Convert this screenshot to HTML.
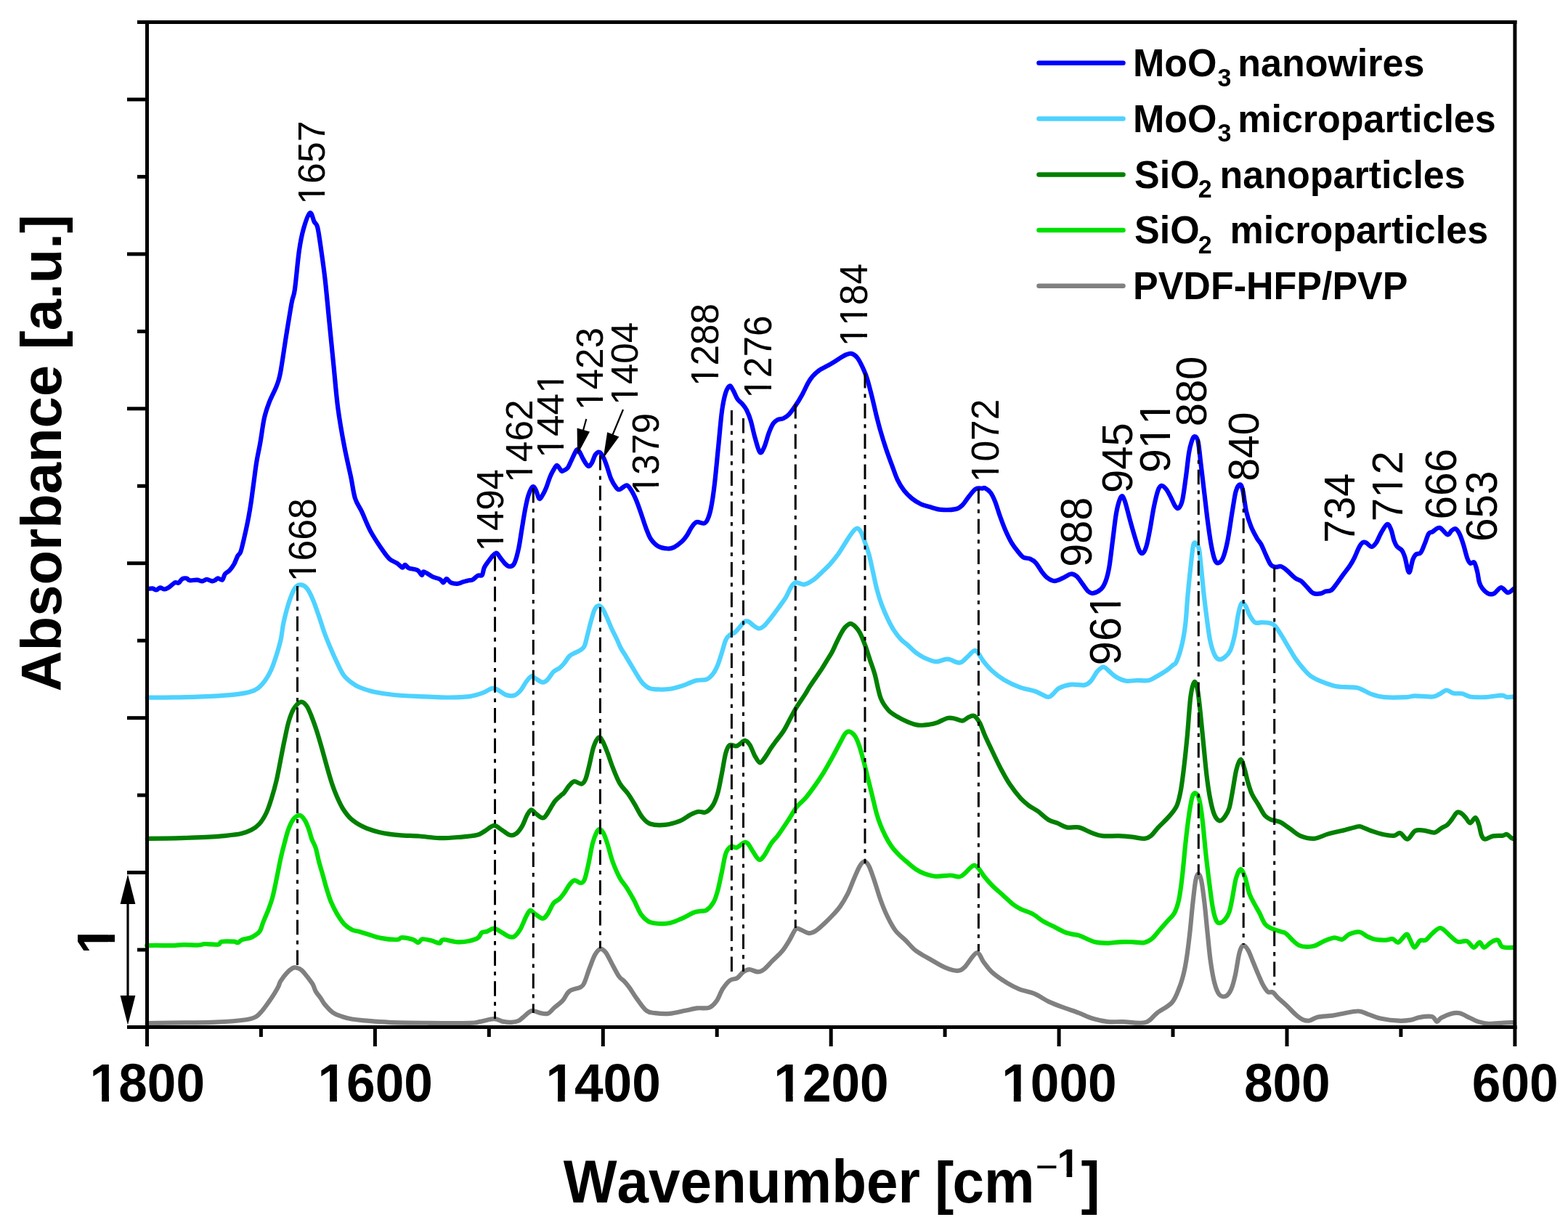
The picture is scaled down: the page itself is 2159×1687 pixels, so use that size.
<!DOCTYPE html>
<html><head><meta charset="utf-8"><title>FTIR spectra</title>
<style>html,body{margin:0;padding:0;background:#fff;width:2159px;height:1687px;overflow:hidden}svg{display:block}text{font-kerning:none;font-feature-settings:"kern" 0;}</style>
</head><body>
<svg xmlns="http://www.w3.org/2000/svg" width="2159" height="1687" viewBox="0 0 2159 1687"><rect x="0" y="0" width="2159" height="1687" fill="#ffffff"/>
<path d="M202.8,1409.1C211.6,1409.0 239.8,1408.6 255.6,1408.4C271.4,1408.2 283.4,1408.4 297.3,1407.7C311.2,1407.0 329.8,1405.5 339.0,1404.2C348.2,1402.9 349.1,1402.1 352.8,1400.0C356.5,1397.9 358.4,1394.9 361.2,1391.7C364.0,1388.5 366.7,1384.5 369.5,1380.6C372.3,1376.7 375.6,1371.8 377.9,1368.1C380.2,1364.4 382.0,1361.2 383.4,1358.4C384.8,1355.6 384.3,1354.4 386.2,1351.4C388.1,1348.4 391.7,1343.3 394.5,1340.3C397.3,1337.3 400.6,1334.6 402.9,1333.3C405.2,1332.0 406.3,1332.2 408.4,1332.7C410.5,1333.2 412.8,1333.9 415.4,1336.1C417.9,1338.3 421.1,1342.7 423.7,1345.9C426.2,1349.2 428.8,1352.4 430.7,1355.6C432.6,1358.8 432.9,1362.1 434.8,1365.3C436.7,1368.5 439.7,1372.0 441.8,1375.0C443.9,1378.0 444.5,1380.2 447.3,1383.4C450.1,1386.7 454.4,1391.7 458.4,1394.5C462.3,1397.3 466.6,1398.5 471.0,1400.0C475.4,1401.5 480.2,1402.7 484.8,1403.5C489.4,1404.3 490.0,1404.4 498.5,1405.1C507.0,1405.8 520.1,1407.2 535.6,1407.8C551.1,1408.4 572.7,1408.6 591.2,1408.8C609.7,1409.0 635.0,1409.1 646.7,1408.8C658.4,1408.5 656.0,1407.8 661.6,1406.9C667.2,1406.0 674.9,1403.2 680.1,1403.2C685.4,1403.2 689.1,1406.1 693.1,1406.9C697.1,1407.7 700.8,1408.0 704.2,1407.8C707.6,1407.6 710.6,1407.2 713.4,1406.0C716.2,1404.8 717.8,1402.7 720.9,1400.4C724.0,1398.1 728.3,1393.0 732.0,1392.1C735.7,1391.2 739.4,1394.3 743.1,1394.9C746.8,1395.5 750.8,1397.0 754.2,1395.8C757.6,1394.6 760.1,1390.4 763.5,1387.5C766.9,1384.6 771.2,1381.9 774.6,1378.2C778.0,1374.5 779.8,1368.3 783.8,1365.2C787.8,1362.1 795.3,1361.6 798.7,1359.7C802.1,1357.8 802.1,1358.4 804.2,1354.1C806.4,1349.8 809.1,1340.2 811.6,1333.7C814.1,1327.2 816.5,1319.7 819.0,1315.2C821.5,1310.7 824.0,1307.5 826.5,1306.9C829.0,1306.3 831.1,1308.0 833.9,1311.5C836.7,1315.0 840.0,1322.7 843.1,1328.2C846.2,1333.8 849.6,1340.9 852.4,1344.8C855.2,1348.7 857.6,1349.2 860.0,1351.8C862.4,1354.3 863.9,1356.2 866.7,1360.1C869.5,1364.0 872.8,1369.8 876.7,1375.1C880.6,1380.4 885.8,1388.5 890.0,1391.8C894.2,1395.1 896.4,1394.4 901.7,1395.1C907.0,1395.8 914.8,1396.5 921.7,1395.9C928.7,1395.4 937.0,1393.0 943.4,1391.8C949.8,1390.5 954.5,1389.1 960.0,1388.4C965.5,1387.7 972.2,1389.3 976.7,1387.6C981.2,1385.9 983.6,1382.7 986.7,1378.4C989.8,1374.1 992.0,1366.5 995.1,1361.8C998.2,1357.1 1001.8,1352.6 1005.1,1350.1C1008.4,1347.6 1012.1,1348.8 1015.1,1346.8C1018.1,1344.8 1020.6,1340.4 1023.4,1338.4C1026.2,1336.5 1028.5,1335.1 1031.8,1335.1C1035.1,1335.1 1040.1,1338.4 1043.4,1338.4C1046.7,1338.4 1048.5,1337.6 1051.8,1335.1C1055.1,1332.6 1059.2,1327.6 1063.4,1323.4C1067.6,1319.2 1072.9,1314.8 1076.8,1310.1C1080.7,1305.4 1083.8,1300.1 1086.8,1295.1C1089.8,1290.1 1092.9,1282.8 1095.1,1280.1C1097.3,1277.4 1097.0,1278.4 1100.1,1279.2C1103.2,1280.0 1109.6,1284.7 1113.5,1285.1C1117.4,1285.5 1119.9,1283.9 1123.5,1281.7C1127.1,1279.5 1131.2,1275.3 1135.1,1271.7C1139.0,1268.1 1143.2,1263.9 1146.8,1260.0C1150.4,1256.1 1153.5,1253.1 1156.8,1248.4C1160.1,1243.7 1163.7,1237.8 1166.8,1231.7C1169.9,1225.6 1172.4,1218.1 1175.2,1211.7C1178.0,1205.3 1181.0,1197.5 1183.5,1193.3C1186.0,1189.1 1188.0,1186.7 1190.2,1186.7C1192.4,1186.7 1194.3,1188.3 1196.8,1193.3C1199.3,1198.3 1202.7,1209.2 1205.2,1216.7C1207.7,1224.2 1209.5,1231.0 1212.0,1238.0C1214.5,1245.0 1217.0,1251.8 1220.4,1259.0C1223.8,1266.2 1228.2,1275.0 1232.6,1281.0C1237.0,1287.0 1242.2,1290.3 1246.9,1295.0C1251.7,1299.7 1255.3,1304.9 1261.1,1309.3C1266.9,1313.7 1274.7,1317.6 1281.5,1321.5C1288.3,1325.4 1295.8,1330.2 1301.9,1332.7C1308.0,1335.2 1313.8,1337.0 1318.2,1336.8C1322.6,1336.6 1324.0,1335.8 1328.4,1331.7C1332.8,1327.6 1340.3,1313.3 1344.7,1312.3C1349.1,1311.3 1351.2,1321.0 1354.9,1325.6C1358.6,1330.2 1361.7,1335.2 1367.1,1339.9C1372.5,1344.7 1381.4,1350.4 1387.5,1354.1C1393.6,1357.8 1397.7,1359.9 1403.8,1362.3C1409.9,1364.7 1417.4,1365.5 1424.2,1368.4C1431.0,1371.3 1437.8,1376.4 1444.6,1379.6C1451.4,1382.8 1458.1,1385.2 1464.9,1387.7C1471.7,1390.2 1478.5,1392.4 1485.3,1394.9C1492.1,1397.5 1498.9,1401.0 1505.7,1403.0C1512.5,1405.0 1519.3,1406.4 1526.1,1407.1C1532.9,1407.8 1537.9,1406.9 1546.4,1407.1C1554.9,1407.3 1569.2,1410.1 1577.0,1408.1C1584.8,1406.1 1587.2,1399.5 1593.3,1394.9C1599.4,1390.3 1608.6,1386.4 1613.7,1380.6C1618.8,1374.8 1621.2,1366.8 1623.9,1360.0C1626.6,1353.2 1628.3,1347.0 1630.0,1340.0C1631.7,1333.0 1632.7,1327.1 1634.1,1318.0C1635.5,1308.9 1636.8,1297.8 1638.2,1285.5C1639.6,1273.2 1640.9,1256.8 1642.3,1244.5C1643.7,1232.2 1645.0,1218.6 1646.4,1211.8C1647.8,1205.0 1649.2,1203.1 1650.5,1203.6C1651.8,1204.0 1653.2,1207.7 1654.5,1214.5C1655.8,1221.3 1657.2,1232.7 1658.6,1244.5C1660.0,1256.3 1661.3,1272.3 1662.7,1285.5C1664.1,1298.7 1665.2,1312.2 1666.8,1323.6C1668.4,1334.9 1670.2,1345.9 1672.3,1353.6C1674.3,1361.3 1676.4,1367.0 1679.1,1370.0C1681.8,1373.0 1685.9,1372.8 1688.6,1371.4C1691.3,1370.0 1693.5,1366.6 1695.5,1361.8C1697.5,1357.0 1699.1,1350.9 1700.9,1342.7C1702.7,1334.5 1704.6,1319.5 1706.4,1312.7C1708.2,1305.9 1709.8,1302.5 1711.8,1301.8C1713.8,1301.1 1716.3,1304.7 1718.6,1308.6C1720.9,1312.5 1723.2,1319.5 1725.5,1325.0C1727.8,1330.5 1730.0,1336.2 1732.3,1341.4C1734.6,1346.6 1736.8,1352.3 1739.1,1356.4C1741.4,1360.5 1743.6,1364.2 1745.9,1365.9C1748.2,1367.6 1750.4,1365.2 1752.7,1366.6C1755.0,1368.0 1756.4,1371.0 1759.6,1374.1C1762.8,1377.2 1767.7,1381.1 1771.8,1385.0C1775.9,1388.9 1780.5,1394.1 1784.1,1397.3C1787.7,1400.5 1790.4,1402.7 1793.6,1404.1C1796.8,1405.5 1799.8,1406.1 1803.2,1405.5C1806.6,1404.9 1808.9,1401.9 1814.1,1400.7C1819.3,1399.5 1828.8,1399.4 1834.5,1398.6C1840.2,1397.8 1842.2,1397.0 1848.2,1396.0C1854.2,1395.0 1864.4,1392.3 1870.5,1392.5C1876.6,1392.7 1879.4,1395.4 1884.7,1397.1C1890.0,1398.8 1895.3,1401.4 1902.1,1402.8C1908.9,1404.2 1918.5,1405.4 1925.3,1405.7C1932.0,1406.0 1937.8,1405.4 1942.6,1404.6C1947.4,1403.8 1949.4,1401.9 1954.2,1401.1C1959.0,1400.3 1967.5,1399.0 1971.6,1400.0C1975.6,1401.0 1976.4,1406.6 1978.5,1406.9C1980.6,1407.2 1981.0,1403.5 1984.3,1401.7C1987.6,1399.9 1994.0,1397.0 1998.2,1395.9C2002.5,1394.8 2005.5,1394.3 2009.8,1395.3C2014.0,1396.3 2019.5,1399.8 2023.7,1401.7C2028.0,1403.6 2031.0,1405.6 2035.3,1406.9C2039.5,1408.2 2043.4,1409.5 2049.2,1409.8C2055.0,1410.1 2064.0,1408.9 2070.0,1408.6C2076.0,1408.3 2082.6,1408.2 2085.1,1408.1" fill="none" stroke="#808080" stroke-width="6.2" stroke-linejoin="round" stroke-linecap="round"/>
<path d="M202.2,1302.2C204.3,1302.2 209.0,1301.9 214.8,1301.9C220.6,1301.9 230.8,1302.3 237.0,1302.2C243.2,1302.1 245.7,1301.2 251.9,1301.1C258.1,1301.0 269.2,1301.7 274.1,1301.5C279.0,1301.3 277.2,1300.1 281.5,1300.0C285.8,1299.9 296.0,1301.3 300.0,1300.8C304.0,1300.2 301.6,1297.4 305.3,1296.7C309.0,1296.0 318.6,1296.5 322.3,1296.7C326.0,1297.0 325.6,1298.6 327.5,1298.2C329.4,1297.8 330.5,1295.2 333.4,1294.1C336.2,1293.0 341.5,1292.6 344.6,1291.5C347.7,1290.4 349.8,1289.0 352.0,1287.4C354.2,1285.9 356.1,1285.2 357.9,1282.2C359.7,1279.2 360.7,1274.4 362.6,1269.5C364.5,1264.6 367.4,1258.3 369.5,1252.8C371.6,1247.2 373.2,1243.1 375.1,1236.2C377.0,1229.3 378.8,1220.0 380.6,1211.2C382.5,1202.4 384.4,1191.8 386.2,1183.4C388.0,1175.1 389.8,1168.0 391.7,1161.1C393.6,1154.1 395.2,1147.2 397.3,1141.7C399.4,1136.2 401.8,1130.9 404.3,1127.8C406.9,1124.7 410.1,1122.7 412.6,1122.9C415.1,1123.1 417.4,1126.1 419.5,1129.2C421.6,1132.3 423.5,1137.3 425.1,1141.7C426.7,1146.1 427.7,1151.2 429.3,1155.6C430.9,1160.0 433.2,1163.0 434.8,1168.1C436.4,1173.2 437.4,1179.8 439.0,1186.1C440.6,1192.3 442.8,1199.1 444.6,1205.6C446.5,1212.1 448.2,1219.1 450.1,1225.1C452.0,1231.1 453.4,1236.2 455.7,1241.7C458.0,1247.2 461.0,1253.3 464.0,1258.4C467.0,1263.5 470.2,1268.6 473.7,1272.3C477.2,1276.0 481.4,1278.8 484.8,1280.6C488.2,1282.3 490.1,1281.7 493.9,1282.8C497.7,1283.9 502.7,1285.5 507.8,1287.0C512.9,1288.5 518.0,1290.7 524.5,1291.9C531.0,1293.1 541.9,1294.1 546.7,1294.0C551.6,1293.9 549.9,1291.2 553.6,1291.2C557.3,1291.2 565.2,1292.8 568.9,1294.0C572.6,1295.2 573.8,1298.2 575.9,1298.1C578.0,1298.0 578.4,1293.8 581.4,1293.3C584.4,1292.8 589.9,1294.4 593.9,1295.3C597.9,1296.2 602.3,1299.0 605.1,1298.8C607.9,1298.6 606.0,1294.2 610.6,1294.0C615.2,1293.8 625.1,1297.6 632.8,1297.4C640.4,1297.2 651.4,1294.8 656.5,1292.6C661.6,1290.4 661.1,1285.8 663.4,1284.2C665.7,1282.6 667.6,1283.7 670.4,1282.8C673.2,1281.9 676.6,1278.5 680.1,1278.7C683.6,1278.9 687.7,1282.4 691.2,1284.2C694.7,1286.0 698.1,1288.9 700.9,1289.8C703.7,1290.7 705.3,1291.4 707.9,1289.8C710.5,1288.2 713.4,1284.7 716.2,1280.1C719.0,1275.5 722.2,1266.4 724.5,1262.0C726.8,1257.6 728.2,1254.4 730.1,1253.7C732.0,1253.0 732.9,1256.0 735.7,1257.8C738.5,1259.6 743.8,1264.6 746.8,1264.8C749.8,1265.0 751.2,1262.7 753.7,1259.2C756.2,1255.7 759.4,1247.4 762.1,1243.9C764.8,1240.4 767.5,1240.4 770.0,1238.1C772.5,1235.8 774.6,1233.0 776.9,1229.8C779.2,1226.6 781.6,1221.6 783.9,1218.7C786.2,1215.8 788.2,1212.9 790.8,1212.4C793.3,1211.9 796.9,1216.0 799.2,1215.9C801.5,1215.8 802.9,1216.1 804.7,1211.7C806.6,1207.3 808.4,1197.8 810.3,1189.5C812.2,1181.2 814.0,1168.9 815.9,1161.7C817.8,1154.5 819.8,1149.7 821.4,1146.4C823.0,1143.2 824.0,1142.0 825.6,1142.2C827.2,1142.4 829.2,1144.3 831.1,1147.8C833.0,1151.3 834.6,1156.6 836.7,1163.1C838.8,1169.6 840.8,1179.1 843.6,1186.7C846.4,1194.3 850.1,1202.9 853.4,1208.9C856.6,1214.9 859.9,1217.7 863.1,1222.8C866.3,1227.9 869.6,1233.5 872.8,1239.5C876.0,1245.5 879.2,1254.1 882.5,1259.0C885.8,1263.9 889.0,1266.6 892.3,1268.7C895.5,1270.8 897.4,1271.0 902.0,1271.5C906.6,1272.0 914.3,1272.4 920.1,1271.5C925.9,1270.6 930.9,1268.3 936.7,1265.9C942.5,1263.5 950.2,1258.8 954.8,1256.9C959.4,1255.1 961.5,1255.4 964.5,1254.8C967.5,1254.2 969.9,1255.5 972.9,1253.4C975.9,1251.3 980.1,1246.7 982.6,1242.3C985.1,1237.9 986.2,1233.7 988.1,1227.0C990.0,1220.3 991.8,1210.6 993.7,1202.0C995.6,1193.4 997.2,1181.6 999.3,1175.6C1001.4,1169.6 1003.7,1167.3 1006.2,1165.9C1008.7,1164.5 1011.5,1168.1 1014.5,1167.2C1017.5,1166.3 1021.8,1161.2 1024.3,1160.3C1026.8,1159.4 1027.7,1159.6 1029.8,1161.7C1031.9,1163.8 1034.2,1169.1 1036.8,1172.8C1039.3,1176.5 1042.5,1183.0 1045.1,1183.9C1047.6,1184.8 1049.3,1182.1 1052.1,1178.4C1054.9,1174.7 1058.5,1166.5 1061.8,1161.7C1065.1,1156.9 1067.8,1155.2 1071.9,1149.5C1076.1,1143.8 1082.5,1133.9 1086.7,1127.5C1090.9,1121.1 1093.4,1115.9 1097.1,1111.2C1100.8,1106.5 1104.7,1104.2 1108.9,1099.3C1113.1,1094.4 1118.1,1087.5 1122.3,1081.6C1126.5,1075.7 1130.1,1070.2 1134.1,1063.8C1138.0,1057.4 1142.3,1049.7 1146.0,1043.0C1149.7,1036.3 1153.3,1029.2 1156.3,1023.8C1159.2,1018.4 1161.5,1013.1 1163.7,1010.4C1165.9,1007.7 1167.5,1006.9 1169.7,1007.4C1171.9,1007.9 1174.9,1010.2 1177.1,1013.4C1179.3,1016.6 1181.0,1021.0 1183.0,1026.7C1185.0,1032.4 1187.0,1040.1 1189.0,1047.5C1191.0,1054.9 1192.9,1063.3 1194.9,1071.2C1196.9,1079.1 1198.8,1086.8 1200.8,1094.9C1202.8,1103.0 1205.0,1113.0 1206.9,1120.0C1208.9,1127.0 1210.4,1131.4 1212.5,1136.7C1214.6,1142.0 1217.0,1147.1 1219.5,1152.0C1222.0,1156.9 1224.6,1161.5 1227.8,1165.9C1231.0,1170.3 1235.2,1174.7 1238.9,1178.4C1242.6,1182.1 1246.3,1185.0 1250.0,1188.1C1253.7,1191.2 1257.2,1194.5 1261.1,1197.1C1265.0,1199.6 1269.0,1201.8 1273.6,1203.4C1278.2,1205.0 1283.1,1206.5 1288.9,1206.8C1294.7,1207.1 1303.1,1205.4 1308.4,1205.5C1313.7,1205.6 1317.7,1207.8 1320.9,1207.5C1324.1,1207.2 1325.2,1205.5 1327.8,1203.4C1330.3,1201.3 1333.9,1197.0 1336.2,1195.0C1338.5,1193.0 1339.9,1191.5 1341.7,1191.6C1343.5,1191.7 1345.0,1193.0 1347.3,1195.7C1349.6,1198.4 1352.4,1203.5 1355.6,1207.5C1358.8,1211.5 1362.5,1215.8 1366.7,1220.0C1370.9,1224.2 1376.0,1228.3 1380.6,1232.5C1385.2,1236.7 1390.3,1241.8 1394.5,1245.1C1398.7,1248.3 1401.0,1249.7 1405.6,1252.0C1410.2,1254.3 1417.2,1256.1 1422.3,1258.9C1427.4,1261.7 1431.6,1265.9 1436.2,1268.7C1440.8,1271.5 1445.0,1273.0 1450.1,1275.6C1455.2,1278.1 1461.0,1281.9 1466.8,1284.0C1472.6,1286.1 1481.1,1287.2 1484.8,1288.1C1488.5,1289.0 1485.4,1288.1 1489.2,1289.6C1493.0,1291.1 1501.5,1295.8 1507.7,1297.3C1513.9,1298.8 1520.6,1298.8 1526.2,1298.8C1531.8,1298.8 1535.9,1297.5 1541.6,1297.3C1547.2,1297.0 1554.4,1297.2 1560.1,1297.3C1565.8,1297.4 1571.1,1298.9 1575.5,1298.1C1579.9,1297.3 1582.7,1295.7 1586.3,1292.7C1589.9,1289.7 1593.5,1284.4 1597.1,1280.3C1600.7,1276.2 1604.6,1271.8 1607.9,1268.0C1611.2,1264.2 1614.5,1262.1 1617.1,1257.2C1619.7,1252.3 1621.5,1247.2 1623.3,1238.7C1625.1,1230.2 1626.4,1219.5 1627.9,1206.4C1629.4,1193.3 1631.0,1174.3 1632.5,1160.2C1634.0,1146.1 1635.7,1132.1 1637.2,1121.6C1638.8,1111.1 1640.3,1101.9 1641.8,1097.0C1643.3,1092.1 1644.9,1091.9 1646.4,1092.4C1647.9,1092.9 1649.5,1093.9 1651.0,1100.1C1652.5,1106.2 1654.2,1116.7 1655.7,1129.3C1657.2,1141.9 1658.8,1161.5 1660.3,1175.6C1661.8,1189.7 1663.4,1202.0 1664.9,1214.1C1666.4,1226.2 1668.0,1239.3 1669.5,1248.0C1671.0,1256.7 1672.5,1262.7 1674.1,1266.5C1675.6,1270.3 1676.7,1271.1 1678.8,1271.1C1680.9,1271.1 1684.2,1269.1 1686.5,1266.5C1688.8,1263.9 1690.8,1261.1 1692.6,1255.7C1694.4,1250.3 1695.8,1241.8 1697.3,1234.1C1698.8,1226.4 1700.1,1215.7 1701.9,1209.5C1703.7,1203.3 1706.0,1197.4 1708.0,1197.1C1710.0,1196.8 1712.1,1202.2 1714.2,1207.9C1716.3,1213.6 1718.1,1224.6 1720.4,1231.0C1722.7,1237.4 1725.8,1242.0 1728.1,1246.4C1730.4,1250.8 1731.9,1252.8 1734.2,1257.2C1736.5,1261.6 1739.1,1269.0 1741.9,1272.6C1744.7,1276.2 1747.3,1277.0 1751.2,1278.8C1755.1,1280.6 1761.8,1282.2 1765.1,1283.4C1768.4,1284.6 1767.1,1282.9 1771.0,1285.9C1774.9,1289.0 1782.3,1298.8 1788.3,1301.7C1794.3,1304.6 1801.4,1304.1 1807.2,1303.2C1813.0,1302.3 1818.0,1298.1 1823.0,1296.1C1828.0,1294.1 1833.0,1291.8 1837.2,1291.4C1841.4,1291.0 1844.8,1294.6 1848.2,1293.8C1851.6,1293.0 1853.7,1288.4 1857.6,1286.7C1861.5,1285.0 1867.6,1283.0 1871.8,1283.5C1876.0,1284.0 1879.1,1288.1 1882.8,1289.8C1886.5,1291.5 1889.7,1293.0 1893.9,1293.8C1898.1,1294.6 1904.1,1294.7 1908.0,1294.6C1911.9,1294.5 1914.6,1292.5 1917.5,1293.0C1920.4,1293.5 1922.2,1298.8 1925.4,1297.7C1928.6,1296.7 1933.8,1287.5 1936.4,1286.7C1939.0,1285.9 1939.3,1290.0 1941.1,1293.0C1942.9,1296.0 1945.0,1304.4 1947.4,1304.8C1949.8,1305.2 1952.7,1297.1 1955.3,1295.4C1957.9,1293.7 1960.2,1296.3 1963.1,1294.6C1966.0,1292.9 1969.2,1287.9 1972.6,1285.1C1976.0,1282.3 1979.7,1277.5 1983.6,1278.0C1987.5,1278.5 1992.3,1285.1 1996.2,1288.3C2000.1,1291.5 2003.3,1295.6 2007.2,1296.9C2011.1,1298.2 2016.1,1294.8 2019.8,1296.1C2023.5,1297.4 2026.4,1304.5 2029.3,1304.8C2032.2,1305.1 2034.8,1297.7 2037.2,1297.7C2039.6,1297.7 2040.9,1304.8 2043.5,1304.8C2046.1,1304.8 2049.8,1299.4 2052.9,1297.7C2056.1,1296.0 2059.8,1293.5 2062.4,1294.6C2065.0,1295.6 2065.0,1302.3 2068.7,1304.0C2072.4,1305.7 2081.8,1304.7 2084.4,1304.8" fill="none" stroke="#00E000" stroke-width="6.2" stroke-linejoin="round" stroke-linecap="round"/>
<path d="M202.8,1154.9C209.3,1154.8 228.3,1154.6 241.7,1154.3C255.1,1154.0 271.8,1153.5 283.4,1152.9C295.0,1152.3 303.1,1151.6 311.2,1150.8C319.3,1150.0 326.2,1149.3 332.0,1148.0C337.8,1146.7 341.7,1145.3 345.9,1143.1C350.1,1140.9 353.5,1138.7 357.0,1134.8C360.5,1130.9 363.9,1125.3 366.7,1119.5C369.5,1113.7 371.4,1107.5 373.7,1100.1C376.0,1092.7 378.5,1083.9 380.6,1075.1C382.7,1066.3 384.4,1056.6 386.2,1047.3C388.0,1038.0 389.8,1028.3 391.7,1019.5C393.6,1010.7 395.2,1001.7 397.3,994.5C399.4,987.3 401.5,981.0 404.3,976.4C407.1,971.8 411.0,967.4 414.0,966.7C417.0,966.0 419.8,968.7 422.3,972.2C424.9,975.7 427.0,981.7 429.3,987.5C431.6,993.3 433.9,999.8 436.2,1007.0C438.5,1014.2 440.9,1022.5 443.2,1030.6C445.5,1038.7 447.8,1047.5 450.1,1055.6C452.4,1063.7 454.8,1072.2 457.1,1079.2C459.4,1086.2 461.5,1091.5 464.0,1097.3C466.5,1103.1 469.1,1108.9 472.3,1114.0C475.6,1119.1 478.8,1123.8 483.5,1127.9C488.2,1132.1 494.4,1135.9 500.8,1138.9C507.2,1141.9 513.6,1144.0 521.7,1145.9C529.8,1147.8 540.2,1149.2 549.5,1150.1C558.8,1151.0 568.0,1150.8 577.3,1151.5C586.6,1152.2 595.9,1154.0 605.1,1154.2C614.4,1154.4 624.2,1153.5 632.8,1152.8C641.4,1152.1 650.7,1151.5 656.5,1150.1C662.3,1148.7 663.7,1146.7 667.6,1144.5C671.5,1142.3 676.2,1137.1 680.1,1136.9C684.0,1136.7 687.5,1140.9 691.2,1143.1C694.9,1145.3 699.0,1149.3 702.3,1150.1C705.5,1150.9 707.9,1150.1 710.7,1148.0C713.5,1145.9 716.5,1141.9 719.0,1137.6C721.5,1133.3 723.8,1126.0 725.9,1122.3C728.0,1118.6 729.4,1115.5 731.5,1115.3C733.6,1115.1 735.9,1119.1 738.4,1120.9C740.9,1122.8 744.5,1126.2 746.8,1126.4C749.1,1126.6 749.5,1126.0 752.3,1122.3C755.1,1118.6 760.2,1108.6 763.5,1104.2C766.8,1099.8 769.6,1098.0 771.8,1095.9C774.0,1093.8 774.9,1093.8 776.9,1091.4C778.9,1089.0 781.6,1084.2 783.9,1081.7C786.2,1079.2 788.0,1076.4 790.8,1076.1C793.6,1075.8 798.0,1080.0 800.6,1079.6C803.2,1079.1 804.2,1077.9 806.1,1073.4C808.0,1068.9 809.9,1059.9 811.7,1052.5C813.6,1045.1 815.1,1035.0 817.2,1028.9C819.3,1022.8 822.1,1017.1 824.2,1015.7C826.3,1014.3 827.6,1017.0 829.7,1020.6C831.8,1024.2 834.4,1031.2 836.7,1037.2C839.0,1043.2 840.8,1049.8 843.6,1056.7C846.4,1063.7 849.9,1072.9 853.4,1078.9C856.9,1084.9 861.0,1087.9 864.5,1092.8C868.0,1097.7 871.0,1102.8 874.2,1108.1C877.4,1113.4 880.4,1120.4 883.9,1124.8C887.4,1129.2 889.8,1132.7 895.1,1134.5C900.4,1136.3 909.0,1136.6 915.9,1135.9C922.8,1135.2 930.9,1132.6 936.7,1130.3C942.5,1128.0 946.4,1124.1 950.6,1122.0C954.8,1119.9 958.2,1118.4 961.7,1117.8C965.2,1117.2 968.2,1119.9 971.5,1118.5C974.8,1117.1 978.4,1113.8 981.2,1109.5C984.0,1105.2 986.0,1100.0 988.1,1092.8C990.2,1085.6 991.8,1075.7 993.7,1066.4C995.6,1057.1 997.4,1043.9 999.3,1037.2C1001.1,1030.5 1002.5,1027.7 1004.8,1026.1C1007.1,1024.5 1010.9,1027.7 1013.2,1027.5C1015.5,1027.3 1016.6,1026.0 1018.7,1024.7C1020.8,1023.4 1023.4,1019.7 1025.7,1019.9C1028.0,1020.1 1030.3,1022.5 1032.6,1026.1C1034.9,1029.7 1037.3,1037.4 1039.6,1041.4C1041.9,1045.5 1044.2,1050.2 1046.5,1050.4C1048.8,1050.6 1051.1,1046.0 1053.5,1042.8C1055.9,1039.6 1058.7,1034.5 1061.0,1031.0C1063.3,1027.5 1064.4,1026.2 1067.4,1022.0C1070.5,1017.8 1075.6,1011.9 1079.3,1006.0C1083.0,1000.1 1086.6,992.1 1089.6,986.7C1092.6,981.3 1094.1,978.3 1097.1,973.4C1100.1,968.5 1104.9,961.8 1107.8,957.4C1110.7,953.0 1111.7,950.6 1114.2,946.7C1116.7,942.8 1119.8,938.3 1122.8,933.9C1125.8,929.5 1129.2,924.8 1132.0,920.4C1134.8,916.0 1137.5,911.3 1139.8,907.6C1142.0,903.9 1143.6,901.9 1145.5,898.3C1147.4,894.7 1149.1,890.6 1151.2,886.2C1153.3,881.8 1156.2,875.8 1158.3,872.0C1160.4,868.2 1161.9,865.7 1164.0,863.5C1166.1,861.3 1168.7,858.9 1171.1,858.9C1173.5,858.9 1176.1,861.4 1178.2,863.5C1180.3,865.6 1181.8,867.1 1183.9,871.3C1186.1,875.4 1188.7,882.0 1191.1,888.4C1193.5,894.8 1196.0,903.0 1198.2,909.7C1200.5,916.5 1202.2,920.3 1204.6,928.9C1207.0,937.5 1209.6,953.4 1212.7,961.5C1215.8,969.6 1219.3,973.6 1223.0,977.8C1226.7,982.0 1230.5,984.0 1234.9,986.7C1239.4,989.4 1244.8,992.1 1249.7,994.1C1254.6,996.1 1259.5,998.0 1264.5,998.6C1269.5,999.2 1275.0,998.4 1279.4,997.8C1283.9,997.2 1287.0,996.3 1291.2,994.8C1295.4,993.3 1300.6,989.8 1304.6,988.9C1308.5,988.0 1311.5,989.1 1314.9,989.7C1318.4,990.3 1322.1,993.0 1325.3,992.6C1328.5,992.2 1331.5,988.5 1334.2,987.4C1336.9,986.3 1339.1,984.6 1341.6,986.0C1344.1,987.4 1346.5,991.0 1349.0,995.6C1351.5,1000.2 1353.0,1005.8 1356.4,1013.4C1359.8,1021.0 1365.7,1033.3 1369.6,1041.5C1373.5,1049.7 1376.5,1055.9 1380.0,1062.3C1383.5,1068.7 1386.2,1073.9 1390.4,1080.1C1394.6,1086.3 1400.8,1094.4 1405.2,1099.3C1409.7,1104.2 1413.1,1106.7 1417.1,1109.7C1421.0,1112.7 1424.5,1113.9 1428.9,1117.1C1433.3,1120.3 1439.2,1126.3 1443.7,1129.0C1448.2,1131.7 1451.4,1131.7 1455.6,1133.4C1459.8,1135.1 1464.0,1138.4 1468.9,1139.4C1473.8,1140.4 1479.5,1138.2 1485.2,1139.4C1490.9,1140.6 1497.5,1144.8 1503.0,1146.8C1508.5,1148.8 1511.7,1150.5 1517.9,1151.2C1524.1,1151.9 1533.2,1151.0 1540.1,1151.2C1547.0,1151.5 1553.5,1152.1 1559.4,1152.7C1565.3,1153.3 1571.5,1155.2 1575.7,1154.9C1579.9,1154.7 1581.4,1153.8 1584.6,1151.2C1587.8,1148.6 1591.2,1143.4 1594.9,1139.4C1598.6,1135.5 1603.3,1131.2 1606.8,1127.5C1610.3,1123.8 1613.3,1120.3 1615.7,1117.1C1618.1,1113.8 1619.3,1112.8 1621.0,1108.0C1622.7,1103.2 1624.3,1096.8 1625.9,1088.0C1627.5,1079.2 1628.9,1067.5 1630.4,1055.0C1631.9,1042.5 1633.3,1028.8 1634.8,1013.0C1636.3,997.2 1637.7,972.3 1639.3,960.0C1640.9,947.7 1642.8,941.0 1644.4,939.3C1646.0,937.6 1647.5,942.9 1648.9,949.6C1650.3,956.3 1651.2,966.9 1652.6,979.3C1653.9,991.6 1655.5,1008.9 1657.0,1023.7C1658.5,1038.5 1660.0,1055.8 1661.5,1068.1C1663.0,1080.4 1664.2,1088.9 1665.9,1097.8C1667.6,1106.7 1669.7,1116.1 1671.9,1121.5C1674.1,1126.9 1676.8,1129.9 1679.3,1130.4C1681.8,1130.9 1684.5,1127.4 1686.7,1124.4C1688.9,1121.4 1690.9,1118.3 1692.6,1112.6C1694.3,1106.9 1695.4,1099.1 1697.0,1090.4C1698.6,1081.8 1700.4,1068.1 1702.2,1060.7C1704.0,1053.3 1706.2,1046.4 1708.1,1045.9C1709.9,1045.4 1711.7,1052.8 1713.3,1057.8C1714.9,1062.8 1716.1,1069.7 1717.8,1075.6C1719.5,1081.5 1721.2,1087.9 1723.7,1093.3C1726.2,1098.7 1729.6,1103.1 1732.6,1108.1C1735.6,1113.0 1738.5,1119.5 1741.5,1123.0C1744.5,1126.5 1747.0,1127.4 1750.4,1128.9C1753.9,1130.4 1758.0,1129.9 1762.2,1131.9C1766.4,1133.9 1770.9,1137.5 1775.6,1140.7C1780.3,1143.9 1784.7,1148.8 1790.4,1151.1C1796.1,1153.4 1803.4,1155.2 1809.6,1154.8C1815.8,1154.4 1822.0,1150.5 1827.4,1148.9C1832.8,1147.3 1838.1,1146.2 1842.2,1145.2C1846.3,1144.2 1847.3,1144.2 1852.0,1143.0C1856.7,1141.8 1866.1,1138.8 1870.1,1138.2C1874.1,1137.6 1873.1,1138.4 1876.1,1139.4C1879.1,1140.4 1883.6,1142.6 1888.2,1144.2C1892.8,1145.8 1898.6,1147.9 1903.8,1149.0C1909.0,1150.1 1915.5,1151.1 1919.5,1150.8C1923.5,1150.5 1924.8,1146.4 1927.9,1147.2C1931.0,1148.0 1934.7,1156.1 1938.1,1155.6C1941.5,1155.1 1944.7,1146.2 1948.4,1144.2C1952.1,1142.2 1956.0,1143.2 1960.4,1143.6C1964.8,1144.0 1970.9,1147.1 1974.9,1146.6C1978.9,1146.1 1981.5,1142.4 1984.5,1140.6C1987.5,1138.8 1990.5,1137.8 1992.9,1135.8C1995.3,1133.8 1996.8,1131.3 1999.0,1128.5C2001.2,1125.7 2004.0,1120.3 2006.2,1118.9C2008.4,1117.5 2010.2,1118.9 2012.2,1120.1C2014.2,1121.3 2016.2,1123.9 2018.2,1126.1C2020.2,1128.3 2022.0,1133.4 2024.2,1133.4C2026.4,1133.4 2029.5,1125.7 2031.5,1126.1C2033.5,1126.5 2034.9,1131.8 2036.3,1135.8C2037.7,1139.8 2038.5,1146.9 2039.9,1150.2C2041.3,1153.5 2042.1,1155.4 2044.7,1155.6C2047.3,1155.8 2051.6,1152.2 2055.6,1151.4C2059.6,1150.6 2065.6,1151.2 2068.8,1150.8C2072.0,1150.4 2072.8,1148.5 2074.8,1149.0C2076.8,1149.5 2079.2,1152.7 2080.9,1153.8C2082.6,1154.9 2084.4,1155.3 2085.1,1155.6" fill="none" stroke="#008000" stroke-width="6.2" stroke-linejoin="round" stroke-linecap="round"/>
<path d="M202.6,960.7C208.7,960.7 226.4,960.6 238.9,960.4C251.4,960.2 264.8,959.9 277.8,959.4C290.8,958.9 305.9,958.2 316.7,957.2C327.5,956.2 336.2,954.9 342.7,953.3C349.2,951.7 351.7,950.3 355.6,947.4C359.5,944.5 363.0,940.1 366.0,935.8C369.0,931.5 371.4,926.9 373.8,921.5C376.2,916.1 378.1,910.2 380.3,903.3C382.5,896.4 385.1,887.6 386.8,880.0C388.5,872.4 388.4,866.5 390.4,857.7C392.3,849.0 395.8,835.6 398.5,827.5C401.2,819.4 403.8,813.0 406.5,809.3C409.2,805.6 411.9,805.1 414.6,805.3C417.3,805.5 419.9,806.9 422.6,810.3C425.3,813.6 428.0,819.2 430.7,825.4C433.4,831.6 436.1,839.9 438.8,847.6C441.5,855.3 444.1,864.4 446.8,871.8C449.5,879.2 452.2,885.6 454.9,892.0C457.6,898.4 460.0,903.9 463.0,910.1C466.0,916.4 469.5,924.5 473.0,929.5C476.5,934.5 480.3,937.2 484.0,940.0C487.7,942.8 489.9,944.4 495.0,946.5C500.1,948.6 506.8,951.0 514.7,952.8C522.6,954.5 532.1,956.0 542.5,957.0C552.9,958.0 564.5,958.5 577.3,959.1C590.0,959.7 607.4,960.5 619.0,960.5C630.6,960.5 639.1,960.1 646.7,959.1C654.3,958.1 659.7,956.1 664.8,954.2C669.9,952.4 674.0,948.8 677.3,948.0C680.5,947.2 681.0,947.9 684.3,949.4C687.5,950.9 692.9,955.6 696.8,957.0C700.7,958.4 704.7,958.6 707.9,957.7C711.1,956.8 713.4,954.6 716.2,951.5C719.0,948.4 722.0,942.4 724.5,939.0C727.0,935.6 729.4,932.1 731.5,931.3C733.6,930.5 734.5,932.7 737.0,934.1C739.5,935.5 744.0,939.2 746.8,939.6C749.6,940.0 751.2,938.6 753.7,936.2C756.2,933.8 759.4,927.8 762.1,925.1C764.8,922.5 767.5,922.2 770.0,920.3C772.5,918.3 774.6,916.2 776.9,913.4C779.2,910.6 781.6,906.0 783.9,903.7C786.2,901.4 788.2,900.9 790.8,899.5C793.3,898.1 796.9,896.9 799.2,895.3C801.5,893.7 803.1,893.3 804.7,889.8C806.3,886.3 807.5,879.8 808.9,874.5C810.3,869.2 811.5,863.6 813.1,857.8C814.7,852.0 816.8,843.6 818.6,839.7C820.5,835.8 822.4,834.4 824.2,834.2C826.1,834.0 827.9,835.9 829.7,838.4C831.6,840.9 833.2,844.9 835.3,849.5C837.4,854.1 840.0,861.0 842.3,866.1C844.6,871.2 847.1,875.6 849.2,880.0C851.3,884.4 852.7,888.5 854.8,892.5C856.9,896.5 859.2,899.5 861.7,903.7C864.2,907.9 867.2,913.0 870.0,917.6C872.8,922.2 875.9,927.6 878.4,931.5C880.9,935.4 882.5,938.4 885.3,941.2C888.1,944.0 891.2,946.7 895.1,948.1C899.0,949.5 904.3,949.4 908.9,949.5C913.5,949.6 918.2,949.5 922.8,948.8C927.4,948.1 932.5,946.6 936.7,945.3C940.9,944.0 944.2,942.6 947.9,941.2C951.6,939.8 954.8,937.9 959.0,937.0C963.2,936.1 969.2,937.0 972.9,935.6C976.6,934.2 978.7,931.9 981.2,928.7C983.7,925.5 986.0,921.1 988.1,916.2C990.2,911.3 991.8,905.3 993.7,899.5C995.6,893.7 997.4,885.6 999.3,881.4C1001.1,877.2 1002.7,876.2 1004.8,874.5C1006.9,872.8 1009.5,872.9 1011.8,871.0C1014.1,869.1 1016.4,865.9 1018.7,863.4C1021.0,860.9 1023.6,856.9 1025.7,855.7C1027.8,854.5 1029.1,855.4 1031.2,856.4C1033.3,857.4 1035.9,860.5 1038.2,862.0C1040.5,863.5 1042.8,865.5 1045.1,865.5C1047.4,865.5 1049.5,864.2 1052.1,862.0C1054.6,859.8 1057.0,856.6 1060.4,852.3C1063.8,848.0 1068.9,841.2 1072.5,836.2C1076.1,831.2 1079.4,826.9 1082.2,822.3C1085.0,817.7 1086.9,811.8 1089.2,808.4C1091.5,805.0 1093.1,802.7 1096.1,802.1C1099.1,801.5 1103.3,805.5 1107.2,804.9C1111.1,804.3 1115.5,801.6 1119.7,798.7C1123.9,795.8 1128.3,791.2 1132.3,787.5C1136.2,783.8 1139.7,780.6 1143.4,776.4C1147.1,772.2 1151.0,767.4 1154.5,762.5C1158.0,757.6 1161.2,751.8 1164.2,747.2C1167.2,742.6 1170.0,737.9 1172.5,734.7C1175.0,731.5 1177.4,728.2 1179.5,727.8C1181.6,727.3 1183.2,729.0 1185.1,732.0C1186.9,735.0 1188.8,740.8 1190.6,745.9C1192.4,751.0 1194.3,755.8 1196.2,762.5C1198.1,769.2 1199.9,778.0 1201.7,786.1C1203.5,794.2 1205.2,803.3 1207.3,811.2C1209.4,819.1 1211.7,826.5 1214.2,833.4C1216.8,840.3 1219.8,847.0 1222.6,852.8C1225.4,858.6 1227.9,863.5 1230.9,868.1C1233.9,872.7 1237.6,877.4 1240.6,880.6C1243.6,883.9 1245.3,884.4 1249.0,887.6C1252.7,890.9 1258.5,896.9 1262.9,900.1C1267.3,903.3 1271.0,905.1 1275.4,907.0C1279.8,908.9 1284.4,911.1 1289.3,911.2C1294.2,911.3 1299.3,907.5 1304.6,907.7C1309.9,907.9 1316.8,913.0 1321.2,912.6C1325.6,912.2 1327.8,908.3 1331.0,905.6C1334.2,902.9 1338.2,897.9 1340.7,896.6C1343.2,895.3 1343.5,895.5 1345.7,897.9C1348.0,900.2 1350.9,906.4 1354.2,910.7C1357.5,915.0 1360.8,919.2 1365.6,923.5C1370.3,927.8 1376.3,932.5 1382.7,936.3C1389.1,940.1 1396.9,943.7 1404.0,946.3C1411.1,948.9 1418.9,949.8 1425.3,952.0C1431.7,954.2 1438.4,959.1 1442.4,959.8C1446.4,960.5 1446.9,958.2 1449.5,956.2C1452.1,954.2 1453.8,950.0 1458.1,947.7C1462.4,945.5 1469.2,943.4 1475.1,942.7C1481.0,942.0 1489.1,944.2 1493.6,943.4C1498.1,942.6 1499.3,940.8 1502.2,937.7C1505.1,934.6 1507.9,928.1 1510.7,924.9C1513.5,921.7 1516.6,918.7 1519.2,918.5C1521.8,918.3 1523.5,921.2 1526.3,923.5C1529.1,925.8 1532.3,929.6 1536.3,932.0C1540.3,934.4 1545.8,936.9 1550.5,937.7C1555.2,938.5 1559.6,937.1 1564.8,937.0C1570.0,936.9 1577.1,938.0 1581.8,937.0C1586.5,936.0 1589.2,933.5 1593.2,931.3C1597.2,929.0 1602.5,926.0 1606.0,923.5C1609.5,921.0 1612.2,918.5 1614.5,916.4C1616.8,914.3 1617.8,916.1 1620.0,911.1C1622.2,906.1 1625.7,895.2 1627.7,886.5C1629.8,877.8 1631.0,869.8 1632.3,858.7C1633.6,847.7 1634.2,833.0 1635.4,820.2C1636.6,807.4 1638.0,793.3 1639.3,781.7C1640.6,770.1 1641.8,756.3 1643.1,750.8C1644.4,745.3 1645.7,747.7 1647.0,748.5C1648.3,749.3 1649.6,750.0 1650.8,755.5C1652.0,761.0 1652.7,770.9 1653.9,781.7C1655.1,792.5 1656.5,808.7 1657.8,820.2C1659.1,831.8 1660.2,840.7 1661.6,851.0C1663.0,861.3 1664.4,873.4 1666.2,881.9C1668.0,890.4 1670.3,897.5 1672.4,901.9C1674.5,906.3 1676.3,907.6 1678.6,908.1C1680.9,908.6 1683.7,907.1 1686.3,905.0C1688.9,902.9 1691.7,900.9 1694.0,895.7C1696.3,890.6 1698.4,882.3 1700.2,874.1C1702.0,865.9 1703.3,853.6 1704.8,846.4C1706.3,839.2 1707.7,833.0 1709.4,831.0C1711.1,829.0 1713.0,831.5 1714.8,834.1C1716.6,836.7 1718.0,842.5 1720.2,846.4C1722.4,850.2 1725.1,855.4 1727.9,857.2C1730.7,859.0 1733.8,857.1 1737.1,857.2C1740.4,857.3 1744.8,857.2 1747.9,858.0C1751.0,858.8 1752.8,858.8 1755.6,861.8C1758.4,864.8 1761.8,870.8 1764.9,875.7C1768.0,880.6 1771.0,886.0 1774.1,891.1C1777.2,896.2 1780.1,901.6 1783.4,906.5C1786.8,911.4 1790.6,916.3 1794.2,920.4C1797.8,924.5 1800.6,928.1 1805.0,931.2C1809.4,934.3 1814.8,936.6 1820.4,938.9C1826.1,941.2 1833.6,943.8 1838.9,945.0C1844.2,946.2 1846.8,945.8 1852.0,946.2C1857.2,946.6 1864.1,945.8 1870.1,947.4C1876.1,949.0 1882.2,953.8 1888.2,955.9C1894.2,958.0 1898.2,959.4 1906.2,960.1C1914.2,960.8 1929.3,960.4 1936.3,960.1C1943.3,959.8 1942.4,958.4 1948.4,958.3C1954.4,958.2 1966.9,959.9 1972.5,959.5C1978.1,959.1 1978.9,957.4 1982.1,955.9C1985.3,954.4 1988.5,950.7 1991.7,950.5C1994.9,950.3 1997.8,953.9 2001.4,954.7C2005.0,955.5 2009.6,954.5 2013.4,955.3C2017.2,956.1 2019.1,958.7 2024.3,959.5C2029.5,960.3 2037.5,960.4 2044.7,960.1C2051.9,959.8 2062.6,957.7 2067.6,957.7C2072.6,957.7 2071.9,959.8 2074.8,960.1C2077.7,960.4 2083.4,959.6 2085.1,959.5" fill="none" stroke="#4DD2FF" stroke-width="6.2" stroke-linejoin="round" stroke-linecap="round"/>
<path d="M203.1,811.0C204.3,810.9 208.2,810.1 210.2,810.4C212.2,810.6 213.6,812.7 215.3,812.5C217.0,812.3 218.5,809.5 220.4,809.3C222.3,809.1 224.5,811.6 226.5,811.5C228.5,811.4 230.2,810.4 232.6,808.9C235.0,807.4 238.6,803.3 240.8,802.3C243.0,801.3 244.2,803.6 245.9,802.8C247.6,801.9 249.1,798.2 251.0,797.2C252.9,796.2 255.4,796.1 257.1,796.5C258.8,796.9 258.7,798.9 261.1,799.3C263.5,799.7 268.4,798.5 271.3,798.7C274.2,798.9 276.3,800.4 278.5,800.3C280.7,800.2 282.4,797.9 284.6,797.9C286.9,797.9 290.1,800.1 292.0,800.3C293.9,800.5 294.9,799.8 296.2,799.1C297.5,798.4 298.3,796.4 300.0,796.3C301.7,796.2 304.6,799.6 306.2,798.6C307.8,797.6 308.2,792.6 309.9,790.4C311.6,788.2 314.1,787.7 316.2,785.4C318.3,783.1 320.5,780.0 322.4,776.7C324.2,773.4 325.9,768.2 327.3,765.5C328.8,762.8 329.9,763.6 331.1,760.5C332.4,757.4 333.6,751.8 334.8,746.8C336.0,741.8 337.2,736.4 338.5,730.6C339.8,724.8 341.1,718.8 342.3,712.0C343.6,705.2 344.8,697.9 346.0,689.6C347.2,681.3 348.4,671.3 349.7,662.2C350.9,653.1 352.0,643.7 353.5,634.8C355.0,625.9 356.8,618.6 358.5,608.7C360.2,598.9 361.9,584.7 363.9,575.7C365.9,566.7 367.6,562.2 370.4,554.8C373.2,547.4 378.3,538.2 380.9,531.3C383.5,524.3 383.9,524.4 386.1,513.1C388.3,501.8 391.3,479.6 393.9,463.5C396.5,447.4 399.7,427.3 401.7,416.5C403.7,405.7 404.2,410.6 405.9,398.7C407.6,386.8 409.9,359.1 411.9,345.3C413.9,331.5 415.3,324.3 417.8,315.6C420.3,306.9 424.2,295.0 426.7,293.3C429.2,291.6 430.9,302.0 432.6,305.2C434.3,308.4 435.6,306.9 437.1,312.6C438.6,318.3 439.8,327.4 441.5,339.3C443.2,351.2 445.5,366.5 447.5,383.8C449.5,401.1 451.4,423.4 453.4,443.2C455.4,463.0 457.3,482.7 459.3,502.5C461.3,522.3 462.8,543.0 465.3,561.8C467.8,580.6 471.2,599.4 474.2,615.2C477.2,631.0 480.6,644.8 483.1,656.7C485.6,668.6 486.5,678.5 489.0,686.4C491.5,694.3 494.4,696.8 497.9,704.2C501.4,711.6 505.4,722.5 509.8,730.9C514.2,739.3 520.2,748.1 524.6,754.6C529.0,761.1 532.6,766.2 536.3,769.7C540.0,773.2 543.7,773.6 546.7,775.6C549.7,777.6 552.2,781.2 554.1,781.6C556.0,782.0 556.3,777.8 557.8,777.9C559.3,778.0 560.1,781.1 563.0,782.3C565.9,783.5 571.9,783.7 574.9,785.3C577.9,786.9 579.3,791.6 580.8,792.0C582.3,792.4 581.3,787.1 583.8,787.5C586.3,787.9 591.9,792.5 595.6,794.2C599.3,795.9 603.5,796.5 606.0,797.9C608.5,799.2 608.9,802.4 610.4,802.3C611.9,802.2 613.2,797.1 614.9,797.1C616.6,797.1 618.3,801.2 620.8,802.3C623.3,803.4 627.0,803.9 629.7,803.8C632.4,803.7 634.6,802.3 637.1,801.6C639.6,800.9 642.3,799.9 644.5,799.4C646.7,798.9 648.3,799.7 650.5,798.6C652.7,797.5 655.7,793.8 657.9,792.7C660.1,791.6 662.3,793.9 663.8,792.0C665.3,790.1 665.3,784.8 666.8,781.6C668.3,778.4 670.7,775.4 672.7,772.7C674.7,770.0 676.8,767.1 678.6,765.3C680.5,763.4 682.1,761.1 683.8,761.6C685.5,762.1 686.9,765.6 689.0,768.2C691.1,770.8 694.2,775.1 696.4,777.1C698.6,779.1 700.3,780.4 702.3,780.1C704.3,779.9 706.3,779.8 708.3,775.6C710.3,771.4 712.5,762.8 714.2,754.9C715.9,747.0 717.1,737.1 718.6,728.2C720.1,719.3 721.6,709.1 723.1,701.5C724.6,693.9 725.8,687.5 727.5,682.3C729.2,677.1 731.7,671.6 733.4,670.4C735.1,669.2 736.4,672.2 737.9,674.9C739.4,677.6 740.8,685.5 742.3,686.7C743.8,687.9 745.2,684.8 746.8,682.3C748.4,679.8 750.3,676.1 752.0,671.9C753.7,667.7 755.6,661.0 757.2,657.1C758.8,653.2 760.0,650.9 761.6,648.2C763.2,645.5 764.9,640.8 766.8,640.8C768.6,640.8 771.3,646.9 772.7,648.2C774.1,649.5 773.5,649.1 775.0,648.5C776.5,647.9 779.7,646.8 781.6,644.4C783.5,642.0 784.5,638.5 786.6,634.4C788.7,630.2 792.2,621.4 794.1,619.5C796.0,617.6 796.7,620.6 798.2,622.8C799.7,625.0 801.3,629.5 803.2,632.7C805.1,635.9 807.9,641.1 809.8,641.9C811.7,642.7 813.1,640.3 814.8,637.7C816.5,635.1 818.0,628.6 819.8,626.1C821.6,623.6 823.7,622.0 825.6,622.8C827.5,623.6 829.6,627.5 831.4,631.1C833.2,634.7 834.8,639.7 836.4,644.4C838.0,649.1 839.4,654.9 841.3,659.3C843.2,663.7 846.0,668.4 848.0,670.9C850.0,673.4 850.5,674.6 853.0,674.2C855.5,673.8 860.1,668.1 862.9,668.4C865.7,668.7 867.4,672.4 869.6,675.9C871.8,679.4 874.0,684.0 876.2,689.2C878.4,694.5 880.6,701.0 882.8,707.4C885.0,713.8 887.3,721.5 889.5,727.3C891.7,733.1 893.3,738.1 896.1,742.3C898.9,746.4 902.2,750.0 906.1,752.2C910.0,754.4 915.7,755.2 919.3,755.5C922.9,755.8 924.3,755.5 927.6,753.9C930.9,752.2 936.2,748.4 939.2,745.6C942.2,742.8 943.7,740.6 945.9,737.3C948.1,734.0 950.3,728.8 952.5,725.7C954.7,722.7 956.4,719.8 959.2,719.0C962.0,718.2 966.6,721.2 969.1,720.7C971.6,720.2 972.4,719.3 974.1,715.7C975.8,712.1 977.5,707.4 979.1,699.1C980.8,690.8 982.4,679.7 984.0,665.9C985.6,652.1 987.3,632.8 989.0,616.2C990.7,599.6 992.3,578.9 994.0,566.4C995.7,553.9 997.2,547.3 999.0,541.5C1000.8,535.7 1003.0,532.0 1004.8,531.5C1006.6,531.0 1008.0,535.2 1009.8,538.2C1011.6,541.2 1013.5,546.8 1015.6,549.8C1017.7,552.8 1020.1,553.9 1022.2,556.4C1024.3,558.9 1026.1,560.8 1028.0,564.7C1029.9,568.6 1031.9,573.2 1033.8,579.6C1035.7,586.0 1037.5,595.7 1039.6,602.9C1041.7,610.1 1044.2,620.6 1046.3,622.8C1048.4,625.0 1050.0,620.6 1052.1,616.2C1054.2,611.8 1056.6,601.7 1058.7,596.2C1060.8,590.7 1062.6,586.3 1064.6,583.3C1066.6,580.2 1068.5,579.1 1070.8,577.9C1073.1,576.7 1075.9,577.5 1078.5,576.3C1081.1,575.1 1083.4,573.8 1086.2,570.9C1089.0,568.0 1092.3,563.2 1095.4,558.6C1098.5,554.0 1101.9,548.3 1104.7,543.2C1107.5,538.1 1110.1,531.9 1112.4,527.8C1114.7,523.7 1116.0,521.5 1118.6,518.6C1121.2,515.7 1123.7,512.9 1127.8,510.1C1131.9,507.3 1138.6,504.3 1143.2,501.6C1147.8,498.9 1151.9,496.1 1155.5,493.9C1159.1,491.7 1162.0,489.6 1164.8,488.5C1167.6,487.4 1169.9,486.4 1172.5,487.0C1175.1,487.6 1177.6,489.2 1180.2,492.4C1182.8,495.6 1185.6,501.3 1187.9,506.2C1190.2,511.1 1192.0,515.2 1194.0,521.6C1196.0,528.0 1198.1,536.5 1200.2,544.7C1202.3,552.9 1204.4,562.7 1206.4,570.9C1208.5,579.1 1210.2,586.0 1212.5,594.0C1214.8,602.0 1217.6,611.0 1220.2,618.7C1222.8,626.4 1225.4,633.4 1228.0,640.3C1230.6,647.2 1232.8,654.4 1235.6,660.3C1238.4,666.2 1241.6,671.3 1244.9,675.7C1248.2,680.1 1251.9,683.4 1255.7,686.5C1259.5,689.6 1263.9,692.3 1268.0,694.2C1272.1,696.1 1275.7,696.8 1280.3,698.1C1284.9,699.4 1289.8,701.4 1295.7,701.9C1301.6,702.4 1310.9,702.1 1315.8,701.1C1320.7,700.1 1321.9,698.7 1325.0,695.7C1328.1,692.8 1331.2,687.1 1334.3,683.4C1337.4,679.7 1340.4,675.2 1343.5,673.4C1346.6,671.6 1350.7,672.8 1352.8,672.6C1354.9,672.4 1354.1,671.1 1356.0,672.1C1357.9,673.1 1361.6,675.3 1364.0,678.5C1366.4,681.7 1368.3,686.0 1370.4,691.3C1372.5,696.6 1374.4,703.8 1376.8,710.5C1379.2,717.2 1382.1,725.2 1384.8,731.3C1387.5,737.4 1390.1,742.8 1392.8,747.3C1395.5,751.8 1398.1,755.2 1400.8,758.5C1403.5,761.8 1405.9,765.4 1408.8,767.3C1411.7,769.2 1415.5,768.4 1418.4,769.7C1421.3,771.0 1423.7,772.4 1426.4,775.3C1429.1,778.2 1431.8,783.8 1434.5,787.3C1437.2,790.8 1439.6,794.0 1442.5,796.1C1445.4,798.2 1448.3,800.2 1452.0,800.1C1455.7,800.0 1461.2,796.9 1464.9,795.3C1468.7,793.7 1471.6,790.8 1474.5,790.5C1477.4,790.2 1479.8,791.4 1482.5,793.7C1485.2,796.0 1487.8,800.6 1490.5,804.1C1493.2,807.6 1496.1,812.4 1498.5,814.5C1500.9,816.6 1502.0,817.5 1504.9,817.0C1507.8,816.5 1513.2,814.1 1516.1,811.3C1519.0,808.5 1520.6,805.2 1522.5,800.1C1524.4,795.0 1525.7,790.2 1527.3,780.9C1528.9,771.6 1530.5,756.4 1532.1,744.1C1533.7,731.8 1535.3,716.6 1536.9,707.3C1538.5,698.0 1540.2,692.1 1541.7,688.1C1543.2,684.1 1544.4,682.5 1545.7,683.3C1547.0,684.1 1548.0,687.3 1549.7,692.9C1551.4,698.5 1554.0,709.2 1556.1,716.9C1558.2,724.6 1560.4,732.4 1562.5,739.3C1564.6,746.2 1567.0,754.8 1568.9,758.5C1570.8,762.2 1572.1,762.8 1573.7,761.7C1575.3,760.6 1576.9,757.4 1578.5,752.1C1580.1,746.8 1581.6,738.8 1583.3,729.7C1585.0,720.6 1587.0,706.8 1588.9,697.7C1590.8,688.6 1592.8,680.1 1594.5,675.3C1596.2,670.5 1597.4,669.2 1599.3,668.9C1601.2,668.6 1603.6,671.0 1605.7,673.7C1607.8,676.4 1610.0,680.9 1612.1,684.9C1614.2,688.9 1616.6,695.3 1618.5,697.7C1620.4,700.1 1621.8,700.9 1623.4,699.3C1625.0,697.7 1626.6,695.3 1628.2,688.1C1629.8,680.9 1631.5,666.7 1633.0,656.0C1634.5,645.3 1635.7,632.0 1637.0,624.0C1638.3,616.0 1639.5,611.8 1640.8,608.0C1642.1,604.2 1643.3,601.0 1644.8,601.0C1646.3,601.0 1648.1,601.5 1649.6,608.0C1651.1,614.5 1652.1,628.0 1653.6,640.0C1655.1,652.0 1656.8,666.8 1658.4,680.1C1660.0,693.5 1661.6,708.1 1663.2,720.1C1664.8,732.1 1666.4,743.6 1668.0,752.1C1669.6,760.6 1671.2,767.4 1672.8,771.3C1674.4,775.2 1675.7,775.8 1677.6,775.3C1679.5,774.8 1681.9,773.3 1684.0,768.1C1686.1,762.9 1688.3,754.8 1690.4,744.1C1692.5,733.4 1694.9,715.3 1696.8,704.1C1698.7,692.9 1699.9,683.0 1701.6,676.9C1703.3,670.8 1705.6,667.6 1707.2,667.3C1708.8,667.0 1709.7,669.2 1711.2,675.3C1712.7,681.4 1714.1,695.8 1716.0,704.1C1717.9,712.4 1720.1,718.8 1722.5,724.9C1724.9,731.0 1728.1,736.6 1730.5,740.9C1732.9,745.2 1734.8,746.5 1736.9,750.5C1739.0,754.5 1741.2,760.4 1743.3,764.9C1745.4,769.4 1747.6,775.0 1749.7,777.7C1751.8,780.4 1753.7,780.5 1756.1,780.9C1758.5,781.3 1761.4,779.3 1764.1,780.1C1766.8,780.9 1768.9,783.0 1772.1,785.7C1775.3,788.4 1780.1,793.7 1783.3,796.1C1786.5,798.5 1788.6,798.1 1791.3,800.1C1794.0,802.1 1796.5,805.3 1799.3,808.1C1802.1,810.9 1804.9,815.4 1808.1,816.9C1811.3,818.4 1815.7,817.8 1818.5,817.4C1821.3,817.0 1822.5,815.2 1824.9,814.5C1827.3,813.8 1830.2,814.8 1832.9,812.9C1835.6,811.0 1838.2,806.8 1840.9,803.3C1843.6,799.8 1846.0,796.1 1848.9,792.1C1851.8,788.1 1855.8,783.3 1858.5,779.3C1861.2,775.3 1862.8,772.4 1864.9,768.1C1867.0,763.8 1869.4,757.2 1871.3,753.7C1873.2,750.2 1874.5,748.4 1876.1,747.3C1877.7,746.2 1878.8,746.3 1880.9,747.3C1883.0,748.2 1886.2,753.0 1888.5,753.0C1890.8,753.0 1892.8,750.4 1895.0,747.2C1897.2,744.0 1899.3,737.8 1901.8,733.6C1904.3,729.4 1907.7,722.7 1910.0,722.0C1912.3,721.3 1913.8,725.8 1915.4,729.5C1917.0,733.2 1918.1,740.6 1919.5,744.5C1920.9,748.4 1921.8,750.4 1923.6,752.7C1925.4,755.0 1928.6,755.6 1930.4,758.1C1932.2,760.6 1933.1,763.2 1934.5,767.7C1935.9,772.2 1937.5,782.2 1938.6,785.4C1939.7,788.6 1940.2,789.3 1941.3,786.8C1942.4,784.3 1944.0,774.3 1945.4,770.4C1946.8,766.5 1947.7,765.2 1949.5,763.6C1951.3,762.0 1954.2,763.4 1956.3,760.9C1958.3,758.4 1960.0,752.9 1961.8,748.6C1963.6,744.3 1965.4,737.7 1967.2,735.0C1969.0,732.3 1970.2,733.6 1972.7,732.2C1975.2,730.8 1978.8,726.1 1982.2,726.8C1985.6,727.5 1990.4,735.6 1993.1,736.3C1995.8,737.0 1996.8,732.3 1998.6,730.9C2000.4,729.5 2002.2,727.4 2004.0,728.1C2005.8,728.8 2007.7,731.4 2009.5,735.0C2011.3,738.6 2013.2,744.3 2015.0,750.0C2016.8,755.7 2018.8,764.7 2020.4,769.0C2022.0,773.3 2022.9,774.9 2024.5,775.8C2026.1,776.7 2028.3,772.7 2029.9,774.5C2031.5,776.3 2032.8,782.3 2034.0,786.8C2035.2,791.3 2035.7,797.9 2036.8,801.7C2037.9,805.6 2038.8,807.3 2040.8,809.9C2042.8,812.5 2046.3,816.1 2049.0,817.4C2051.7,818.6 2054.2,818.8 2057.2,817.4C2060.2,816.0 2063.6,809.4 2066.8,809.2C2070.0,809.0 2073.4,815.9 2076.3,816.1C2079.2,816.3 2083.1,811.5 2084.5,810.6" fill="none" stroke="#0000FF" stroke-width="6.2" stroke-linejoin="round" stroke-linecap="round"/>
<line x1="409.5" y1="807.0" x2="409.5" y2="1332.0" stroke="#000" stroke-width="3" stroke-dasharray="20.5 8 5.3 8"/>
<line x1="681.5" y1="766.0" x2="681.5" y2="1403.0" stroke="#000" stroke-width="3" stroke-dasharray="20.5 8 5.3 8"/>
<line x1="734.3" y1="672.0" x2="734.3" y2="1395.0" stroke="#000" stroke-width="3" stroke-dasharray="20.5 8 5.3 8"/>
<line x1="826.4" y1="627.0" x2="826.4" y2="1306.0" stroke="#000" stroke-width="3" stroke-dasharray="20.5 8 5.3 8"/>
<line x1="1007.4" y1="565.0" x2="1007.4" y2="1345.0" stroke="#000" stroke-width="3" stroke-dasharray="20.5 8 5.3 8"/>
<line x1="1023.5" y1="576.0" x2="1023.5" y2="1338.0" stroke="#000" stroke-width="3" stroke-dasharray="20.5 8 5.3 8"/>
<line x1="1095.3" y1="556.0" x2="1095.3" y2="1278.0" stroke="#000" stroke-width="3" stroke-dasharray="20.5 8 5.3 8"/>
<line x1="1191.0" y1="514.0" x2="1191.0" y2="1189.0" stroke="#000" stroke-width="3" stroke-dasharray="20.5 8 5.3 8"/>
<line x1="1347.4" y1="673.0" x2="1347.4" y2="1310.0" stroke="#000" stroke-width="3" stroke-dasharray="20.5 8 5.3 8"/>
<line x1="1650.3" y1="605.0" x2="1650.3" y2="1205.0" stroke="#000" stroke-width="3" stroke-dasharray="20.5 8 5.3 8"/>
<line x1="1712.2" y1="672.0" x2="1712.2" y2="1301.0" stroke="#000" stroke-width="3" stroke-dasharray="20.5 8 5.3 8"/>
<line x1="1754.7" y1="781.0" x2="1754.7" y2="1357.0" stroke="#000" stroke-width="3" stroke-dasharray="20.5 8 5.3 8"/>
<g stroke="#000" stroke-width="5" fill="none">
<line x1="189" y1="30.5" x2="2088.5" y2="30.5"/>
<line x1="2085.9" y1="28" x2="2085.9" y2="1417"/>
<line x1="175" y1="1414.5" x2="2088.5" y2="1414.5"/>
<line x1="202.5" y1="28" x2="202.5" y2="1441"/>
<line x1="189" y1="1308.0" x2="202.5" y2="1308.0"/>
<line x1="175" y1="1201.6" x2="202.5" y2="1201.6"/>
<line x1="189" y1="1095.1" x2="202.5" y2="1095.1"/>
<line x1="175" y1="988.7" x2="202.5" y2="988.7"/>
<line x1="189" y1="882.2" x2="202.5" y2="882.2"/>
<line x1="175" y1="775.7" x2="202.5" y2="775.7"/>
<line x1="189" y1="669.3" x2="202.5" y2="669.3"/>
<line x1="175" y1="562.8" x2="202.5" y2="562.8"/>
<line x1="189" y1="456.4" x2="202.5" y2="456.4"/>
<line x1="175" y1="349.9" x2="202.5" y2="349.9"/>
<line x1="189" y1="243.4" x2="202.5" y2="243.4"/>
<line x1="175" y1="137.0" x2="202.5" y2="137.0"/>
<line x1="359.4" y1="1414.5" x2="359.4" y2="1428"/>
<line x1="516.4" y1="1414.5" x2="516.4" y2="1441"/>
<line x1="673.3" y1="1414.5" x2="673.3" y2="1428"/>
<line x1="830.3" y1="1414.5" x2="830.3" y2="1441"/>
<line x1="987.2" y1="1414.5" x2="987.2" y2="1428"/>
<line x1="1144.2" y1="1414.5" x2="1144.2" y2="1441"/>
<line x1="1301.1" y1="1414.5" x2="1301.1" y2="1428"/>
<line x1="1458.1" y1="1414.5" x2="1458.1" y2="1441"/>
<line x1="1615.0" y1="1414.5" x2="1615.0" y2="1428"/>
<line x1="1772.0" y1="1414.5" x2="1772.0" y2="1441"/>
<line x1="1928.9" y1="1414.5" x2="1928.9" y2="1428"/>
<line x1="2085.9" y1="1414.5" x2="2085.9" y2="1441"/>
</g>
<g transform="translate(202.8,1517) scale(1,1.04)"><text x="0" y="0" font-family='"Liberation Sans", Arial, sans-serif' font-size="71.20" font-weight="bold" text-anchor="middle">1800</text><g fill="#fff"><rect x="-76.80" y="-8.87" width="14.22" height="10.37"/><rect x="-52.81" y="-8.87" width="13.32" height="10.37"/></g></g>
<g transform="translate(516.7,1517) scale(1,1.04)"><text x="0" y="0" font-family='"Liberation Sans", Arial, sans-serif' font-size="71.20" font-weight="bold" text-anchor="middle">1600</text><g fill="#fff"><rect x="-76.80" y="-8.87" width="14.22" height="10.37"/><rect x="-52.81" y="-8.87" width="13.32" height="10.37"/></g></g>
<g transform="translate(830.6,1517) scale(1,1.04)"><text x="0" y="0" font-family='"Liberation Sans", Arial, sans-serif' font-size="71.20" font-weight="bold" text-anchor="middle">1400</text><g fill="#fff"><rect x="-76.80" y="-8.87" width="14.22" height="10.37"/><rect x="-52.81" y="-8.87" width="13.32" height="10.37"/></g></g>
<g transform="translate(1144.5,1517) scale(1,1.04)"><text x="0" y="0" font-family='"Liberation Sans", Arial, sans-serif' font-size="71.20" font-weight="bold" text-anchor="middle">1200</text><g fill="#fff"><rect x="-76.80" y="-8.87" width="14.22" height="10.37"/><rect x="-52.81" y="-8.87" width="13.32" height="10.37"/></g></g>
<g transform="translate(1458.4,1517) scale(1,1.04)"><text x="0" y="0" font-family='"Liberation Sans", Arial, sans-serif' font-size="71.20" font-weight="bold" text-anchor="middle">1000</text><g fill="#fff"><rect x="-76.80" y="-8.87" width="14.22" height="10.37"/><rect x="-52.81" y="-8.87" width="13.32" height="10.37"/></g></g>
<g transform="translate(1772.3,1517) scale(1,1.04)"><text x="0" y="0" font-family='"Liberation Sans", Arial, sans-serif' font-size="71.20" font-weight="bold" text-anchor="middle">800</text></g>
<g transform="translate(2086.2,1517) scale(1,1.04)"><text x="0" y="0" font-family='"Liberation Sans", Arial, sans-serif' font-size="71.20" font-weight="bold" text-anchor="middle">600</text></g>
<text transform="translate(775.8,1656.1) scale(1,1.06)" x="0" y="0" font-family='"Liberation Sans", Arial, sans-serif' font-weight="bold" font-size="78.2">Wavenumber</text>
<text transform="translate(1287.3,1656.1) scale(1,1.02)" x="0" y="0" font-family='"Liberation Sans", Arial, sans-serif' font-weight="bold" font-size="78.2">[</text>
<text transform="translate(1311.5,1656.1) scale(1,1.06)" x="0" y="0" font-family='"Liberation Sans", Arial, sans-serif' font-weight="bold" font-size="78.2">cm</text>
<text x="1425.5" y="1624.6" font-family='"Liberation Sans", Arial, sans-serif' font-size="53.7">−</text>
<g transform="translate(1455.5,1620.7)"><text x="0" y="0" font-family='"Liberation Sans", Arial, sans-serif' font-size="56.00" font-weight="bold">1</text><g fill="#fff"><rect x="1.89" y="-7.31" width="11.18" height="8.81"/><rect x="20.75" y="-7.31" width="10.47" height="8.81"/></g></g>
<text transform="translate(1488.6,1656.1) scale(1,1.02)" x="0" y="0" font-family='"Liberation Sans", Arial, sans-serif' font-weight="bold" font-size="78.2">]</text>
<text transform="translate(83.9,952.6) rotate(-90) scale(1,1.0)" x="0" y="0" font-family='"Liberation Sans", Arial, sans-serif' font-weight="bold" font-size="77.84">Absorbance [a.u.]</text>
<g transform="translate(158.4,1314) rotate(-90) scale(1,1.04)"><text x="0" y="0" font-family='"Liberation Sans", Arial, sans-serif' font-size="72.00" font-weight="bold">1</text><g fill="#fff"><rect x="2.43" y="-8.95" width="14.38" height="10.45"/><rect x="26.68" y="-8.95" width="13.46" height="10.45"/></g></g>
<line x1="176" y1="1240" x2="176" y2="1375" stroke="#000" stroke-width="3.2"/>
<polygon points="176,1204 165.6,1245 186.4,1245" fill="#000"/>
<polygon points="176,1411.5 165.6,1371 186.4,1371" fill="#000"/>
<line x1="807.3" y1="577" x2="801" y2="600" stroke="#000" stroke-width="2.2"/>
<polygon points="794.6,589.5 812,594.6 795.1,626" fill="#000"/>
<line x1="858" y1="564" x2="843" y2="600" stroke="#000" stroke-width="2.2"/>
<polygon points="836.2,595.3 852.4,601.5 830.6,631.3" fill="#000"/>
<g transform="translate(446.7,281.7) rotate(-90) scale(1,1.007)"><text x="0" y="0" font-family='"Liberation Sans", Arial, sans-serif' font-size="51.78">1657</text><g fill="#fff"><rect x="2.43" y="-5.47" width="10.59" height="6.97"/><rect x="17.60" y="-5.47" width="10.19" height="6.97"/></g></g>
<g transform="translate(435.3,801.2) rotate(-90) scale(1,1.046)"><text x="0" y="0" font-family='"Liberation Sans", Arial, sans-serif' font-size="51.70">1668</text><g fill="#fff"><rect x="2.42" y="-5.46" width="10.58" height="6.96"/><rect x="17.57" y="-5.46" width="10.17" height="6.96"/></g></g>
<g transform="translate(693.0,759.4) rotate(-90) scale(1,1.035)"><text x="0" y="0" font-family='"Liberation Sans", Arial, sans-serif' font-size="50.88">1494</text><g fill="#fff"><rect x="2.38" y="-5.40" width="10.41" height="6.90"/><rect x="17.29" y="-5.40" width="10.01" height="6.90"/></g></g>
<g transform="translate(733.3,664.7) rotate(-90) scale(1,1.025)"><text x="0" y="0" font-family='"Liberation Sans", Arial, sans-serif' font-size="51.39">1462</text><g fill="#fff"><rect x="2.41" y="-5.44" width="10.51" height="6.94"/><rect x="17.47" y="-5.44" width="10.11" height="6.94"/></g></g>
<g transform="translate(775.6,630.7) rotate(-90) scale(1,0.959)"><text x="0" y="0" font-family='"Liberation Sans", Arial, sans-serif' font-size="53.29">1441</text><g fill="#fff"><rect x="2.50" y="-5.58" width="10.90" height="7.08"/><rect x="18.11" y="-5.58" width="10.49" height="7.08"/><rect x="91.41" y="-5.58" width="10.90" height="7.08"/><rect x="107.03" y="-5.58" width="10.49" height="7.08"/></g></g>
<g transform="translate(830.1,564.9) rotate(-90) scale(1,1.001)"><text x="0" y="0" font-family='"Liberation Sans", Arial, sans-serif' font-size="51.24">1423</text><g fill="#fff"><rect x="2.40" y="-5.43" width="10.48" height="6.93"/><rect x="17.41" y="-5.43" width="10.08" height="6.93"/></g></g>
<g transform="translate(878.4,557.9) rotate(-90) scale(1,1.022)"><text x="0" y="0" font-family='"Liberation Sans", Arial, sans-serif' font-size="51.40">1404</text><g fill="#fff"><rect x="2.41" y="-5.44" width="10.52" height="6.94"/><rect x="17.47" y="-5.44" width="10.11" height="6.94"/></g></g>
<g transform="translate(907.3,682.4) rotate(-90) scale(1,1.021)"><text x="0" y="0" font-family='"Liberation Sans", Arial, sans-serif' font-size="51.03">1379</text><g fill="#fff"><rect x="2.39" y="-5.41" width="10.44" height="6.91"/><rect x="17.34" y="-5.41" width="10.04" height="6.91"/></g></g>
<g transform="translate(989.3,532.1) rotate(-90) scale(1,1.032)"><text x="0" y="0" font-family='"Liberation Sans", Arial, sans-serif' font-size="51.32">1288</text><g fill="#fff"><rect x="2.41" y="-5.43" width="10.50" height="6.93"/><rect x="17.44" y="-5.43" width="10.10" height="6.93"/></g></g>
<g transform="translate(1062.3,548.7) rotate(-90) scale(1,1.032)"><text x="0" y="0" font-family='"Liberation Sans", Arial, sans-serif' font-size="51.33">1276</text><g fill="#fff"><rect x="2.41" y="-5.43" width="10.50" height="6.93"/><rect x="17.44" y="-5.43" width="10.10" height="6.93"/></g></g>
<g transform="translate(1193.6,477.2) rotate(-90) scale(1,1.032)"><text x="0" y="0" font-family='"Liberation Sans", Arial, sans-serif' font-size="51.31">1184</text><g fill="#fff"><rect x="2.41" y="-5.43" width="10.50" height="6.93"/><rect x="17.44" y="-5.43" width="10.10" height="6.93"/><rect x="30.94" y="-5.43" width="10.50" height="6.93"/><rect x="45.97" y="-5.43" width="10.10" height="6.93"/></g></g>
<g transform="translate(1375.0,664.3) rotate(-90) scale(1,1.023)"><text x="0" y="0" font-family='"Liberation Sans", Arial, sans-serif' font-size="51.63">1072</text><g fill="#fff"><rect x="2.42" y="-5.46" width="10.56" height="6.96"/><rect x="17.55" y="-5.46" width="10.16" height="6.96"/></g></g>
<g transform="translate(1502.8,780.8) rotate(-90) scale(1,1.075)"><text x="0" y="0" font-family='"Liberation Sans", Arial, sans-serif' font-size="57.66">988</text></g>
<g transform="translate(1559.0,679.1) rotate(-90) scale(1,1.032)"><text x="0" y="0" font-family='"Liberation Sans", Arial, sans-serif' font-size="58.05">945</text></g>
<g transform="translate(1611.4,651.3) rotate(-90) scale(1,1.004)"><text x="0" y="0" font-family='"Liberation Sans", Arial, sans-serif' font-size="59.63">911</text><g fill="#fff"><rect x="35.96" y="-6.05" width="12.20" height="7.55"/><rect x="53.43" y="-6.05" width="11.73" height="7.55"/><rect x="69.12" y="-6.05" width="12.20" height="7.55"/><rect x="86.60" y="-6.05" width="11.73" height="7.55"/></g></g>
<g transform="translate(1660.6,587.2) rotate(-90) scale(1,1.038)"><text x="0" y="0" font-family='"Liberation Sans", Arial, sans-serif' font-size="57.82">880</text></g>
<g transform="translate(1733.1,662.7) rotate(-90) scale(1,1.046)"><text x="0" y="0" font-family='"Liberation Sans", Arial, sans-serif' font-size="57.13">840</text></g>
<g transform="translate(1864.5,747.8) rotate(-90) scale(1,1.042)"><text x="0" y="0" font-family='"Liberation Sans", Arial, sans-serif' font-size="57.50">734</text></g>
<g transform="translate(1931.4,718.2) rotate(-90) scale(1,1.008)"><text x="0" y="0" font-family='"Liberation Sans", Arial, sans-serif' font-size="58.27">712</text><g fill="#fff"><rect x="35.14" y="-5.95" width="11.92" height="7.45"/><rect x="52.21" y="-5.95" width="11.47" height="7.45"/></g></g>
<g transform="translate(2005.0,715.5) rotate(-90) scale(1,1.035)"><text x="0" y="0" font-family='"Liberation Sans", Arial, sans-serif' font-size="58.52">666</text></g>
<g transform="translate(2060.9,746.1) rotate(-90) scale(1,1.036)"><text x="0" y="0" font-family='"Liberation Sans", Arial, sans-serif' font-size="58.46">653</text></g>
<g transform="translate(1543.0,916.3) rotate(-90) scale(1,1.027)"><text x="0" y="0" font-family='"Liberation Sans", Arial, sans-serif' font-size="59.70">961</text><g fill="#fff"><rect x="69.21" y="-6.06" width="12.21" height="7.56"/><rect x="86.70" y="-6.06" width="11.75" height="7.56"/></g></g>
<line x1="1430.5" y1="86.8" x2="1546.5" y2="86.8" stroke="#0000FF" stroke-width="6.5" stroke-linecap="round"/>
<text transform="translate(1560.0,105.0) scale(1,1.04)" x="0" y="0" font-family='"Liberation Sans", Arial, sans-serif' font-weight="bold" font-size="52">MoO</text>
<text transform="translate(1676.5,118.6) scale(1,1.04)" x="0" y="0" font-family='"Liberation Sans", Arial, sans-serif' font-weight="bold" font-size="34">3</text>
<text transform="translate(1704.2,105.0) scale(1,1.04)" x="0" y="0" font-family='"Liberation Sans", Arial, sans-serif' font-weight="bold" font-size="52">nanowires</text>
<line x1="1430.5" y1="163.4" x2="1546.5" y2="163.4" stroke="#4DD2FF" stroke-width="6.5" stroke-linecap="round"/>
<text transform="translate(1560.0,181.6) scale(1,1.04)" x="0" y="0" font-family='"Liberation Sans", Arial, sans-serif' font-weight="bold" font-size="52">MoO</text>
<text transform="translate(1676.5,195.2) scale(1,1.04)" x="0" y="0" font-family='"Liberation Sans", Arial, sans-serif' font-weight="bold" font-size="34">3</text>
<text transform="translate(1704.2,181.6) scale(1,1.04)" x="0" y="0" font-family='"Liberation Sans", Arial, sans-serif' font-weight="bold" font-size="52">microparticles</text>
<line x1="1430.5" y1="240.4" x2="1546.5" y2="240.4" stroke="#008000" stroke-width="6.5" stroke-linecap="round"/>
<text transform="translate(1562.0,258.6) scale(1,1.04)" x="0" y="0" font-family='"Liberation Sans", Arial, sans-serif' font-weight="bold" font-size="52">SiO</text>
<text transform="translate(1649.8,272.2) scale(1,1.04)" x="0" y="0" font-family='"Liberation Sans", Arial, sans-serif' font-weight="bold" font-size="34">2</text>
<text transform="translate(1679.6,258.6) scale(1,1.04)" x="0" y="0" font-family='"Liberation Sans", Arial, sans-serif' font-weight="bold" font-size="52">nanoparticles</text>
<line x1="1430.5" y1="317.0" x2="1546.5" y2="317.0" stroke="#00E000" stroke-width="6.5" stroke-linecap="round"/>
<text transform="translate(1562.0,335.2) scale(1,1.04)" x="0" y="0" font-family='"Liberation Sans", Arial, sans-serif' font-weight="bold" font-size="52">SiO</text>
<text transform="translate(1649.8,348.8) scale(1,1.04)" x="0" y="0" font-family='"Liberation Sans", Arial, sans-serif' font-weight="bold" font-size="34">2</text>
<text transform="translate(1693.6,335.2) scale(1,1.04)" x="0" y="0" font-family='"Liberation Sans", Arial, sans-serif' font-weight="bold" font-size="52">microparticles</text>
<line x1="1430.5" y1="393.7" x2="1546.5" y2="393.7" stroke="#808080" stroke-width="6.5" stroke-linecap="round"/>
<text transform="translate(1560.0,411.9) scale(1,1.04)" x="0" y="0" font-family='"Liberation Sans", Arial, sans-serif' font-weight="bold" font-size="52">PVDF-HFP/PVP</text></svg>
</body></html>
